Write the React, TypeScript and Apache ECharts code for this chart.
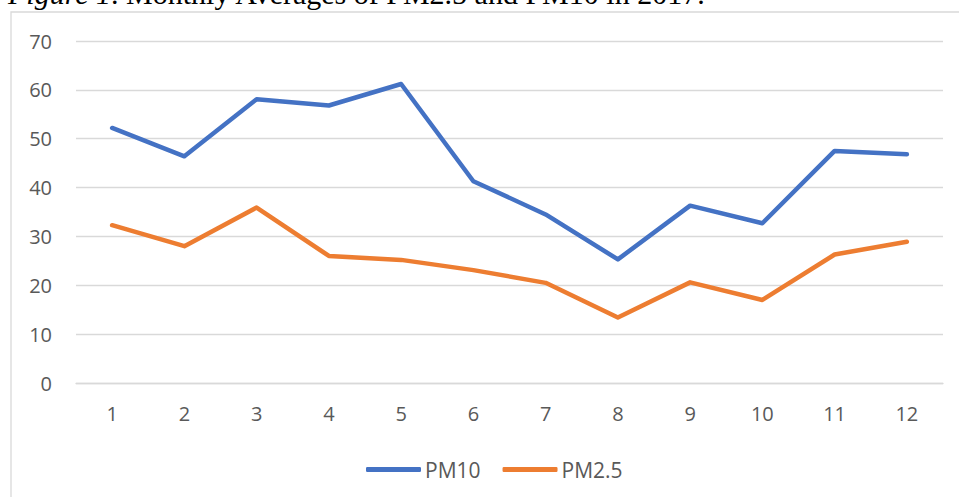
import React, { useEffect, useRef } from "react";
import * as echarts from "echarts";

const months = ["1", "2", "3", "4", "5", "6", "7", "8", "9", "10", "11", "12"];
const pm10 = [52.2, 46.4, 58.1, 56.8, 61.2, 41.3, 34.5, 25.3, 36.3, 32.7, 47.5, 46.8];
const pm25 = [32.3, 28.0, 35.9, 26.0, 25.2, 23.1, 20.5, 13.4, 20.6, 17.0, 26.3, 28.9];
const captionItalic = "Figure 1";
const captionRest = ". Monthly Averages of PM2.5 and PM10 in 2017.";

export default function App() {
  const ref = useRef<HTMLDivElement>(null);
  useEffect(() => {
    if (!ref.current) return;
    const chart = echarts.init(ref.current, null, { renderer: "svg" });
    const font = "'Open Sans', 'Noto Sans', sans-serif";
    chart.setOption({
      animation: false,
      backgroundColor: "#ffffff",
      graphic: [
        {
          type: "rect",
          shape: { x: 11, y: 12, width: 1000, height: 600 },
          style: { fill: "none", stroke: "#d9d9d9", lineWidth: 1.3 },
          silent: true,
          z: -1,
        },
        {
          type: "text",
          x: 8,
          y: 8,
          style: {
            text: "{i|" + captionItalic + "}{r|" + captionRest + "}",
            fontFamily: "'Liberation Serif', 'Times New Roman', serif",
            fontSize: 30,
            fill: "#000000",
            verticalAlign: "bottom",
            rich: {
              i: { fontStyle: "italic", fontSize: 30, fontFamily: "'Liberation Serif', serif", fill: "#000" },
              r: { fontSize: 30, fontFamily: "'Liberation Serif', serif", fill: "#000" },
            },
          },
        },
      ],
      grid: { left: 76, right: 16, top: 41, bottom: 114, containLabel: false },
      legend: {
        data: ["PM10", "PM2.5"],
        left: 361,
        top: 454,
        icon: "roundRect",
        itemWidth: 55,
        itemHeight: 5,
        itemGap: 22,
        textStyle: { color: "#595959", fontSize: 21, fontFamily: font, padding: [0, 0, 0, -1] },
      },
      xAxis: {
        type: "category",
        data: months,
        boundaryGap: true,
        axisLine: { show: true, lineStyle: { color: "#d9d9d9", width: 1.3 } },
        axisTick: { show: false },
        axisLabel: { color: "#595959", fontSize: 20, fontFamily: font, margin: 20 },
      },
      yAxis: {
        type: "value",
        min: 0,
        max: 70,
        interval: 10,
        axisLine: { show: false },
        axisTick: { show: false },
        splitLine: { lineStyle: { color: "#d9d9d9", width: 1.3 } },
        axisLabel: { color: "#595959", fontSize: 20, fontFamily: font, margin: 24 },
      },
      series: [
        {
          name: "PM10",
          type: "line",
          data: pm10,
          symbol: "none",
          color: "#4472C4",
          lineStyle: { width: 4.5, color: "#4472C4", cap: "round", join: "round" },
        },
        {
          name: "PM2.5",
          type: "line",
          data: pm25,
          symbol: "none",
          color: "#ED7D31",
          lineStyle: { width: 4.5, color: "#ED7D31", cap: "round", join: "round" },
        },
      ],
    });
    return () => chart.dispose();
  }, []);
  return <div ref={ref} style={{ width: 959, height: 497, position: "absolute", left: 0, top: 0 }} />;
}
